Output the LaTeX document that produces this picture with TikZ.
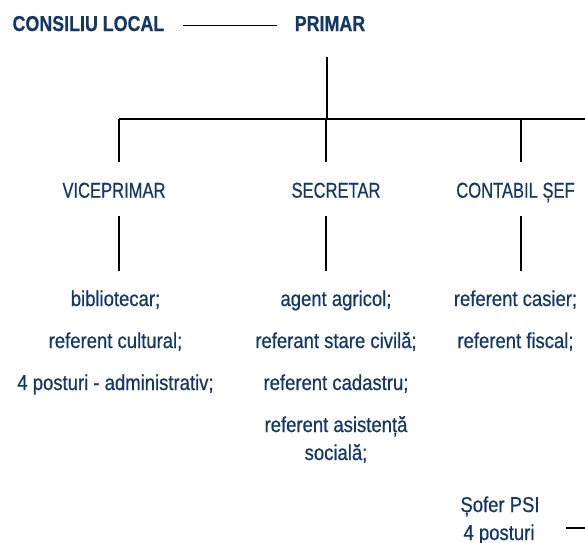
\documentclass[tikz,border=0pt]{standalone}
\usepackage{fontspec}
\setmainfont{Liberation Sans}
\newfontfamily\capsfont{Liberation Sans}[FakeStretch=0.77,FakeBold=0.6]
\newfontfamily\txtfont{Liberation Sans}[FakeStretch=0.86,FakeBold=0.6]
\newfontfamily\boldfont{Liberation Sans}[FakeStretch=0.83,FakeBold=0.5]
\definecolor{navy}{RGB}{20,56,102}
\begin{document}
\begin{tikzpicture}[x=1pt,y=-1pt,
  base/.style={inner sep=0pt,anchor=base,text=navy,font=\fontsize{21.5pt}{26pt}\selectfont},
  head/.style={base,font=\fontsize{21.5pt}{26pt}\selectfont\boldfont\bfseries},
  title/.style={base,font=\fontsize{21.5pt}{26pt}\selectfont\capsfont},
  item/.style={base,font=\fontsize{21.5pt}{26pt}\selectfont\txtfont},
  conn/.style={draw=black,line width=2pt},
  thin/.style={draw=black,line width=1.6pt}]
\useasboundingbox (0,0) rectangle (585,542);
% heads
\node[head,anchor=base west] (cl) at (12.4,31) {CONSILIU LOCAL};
\node[head] (pr) at (330,31) {PRIMAR};
% titles
\node[title] (vp) at (114,197.7) {VICEPRIMAR};
\node[title] (sc) at (336,197.7) {SECRETAR};
\node[title] (cf) at (515.5,197.7) {CONTABIL ȘEF};
% lists
\node[item] (v1) at (115.5,306) {bibliotecar;};
\node[item] (v2) at (115.5,348) {referent cultural;};
\node[item] (v3) at (115.5,390) {4 posturi - administrativ;};
\node[item] (s1) at (336,306) {agent agricol;};
\node[item] (s2) at (336,348) {referant stare civilă;};
\node[item] (s3) at (336,390) {referent cadastru;};
\node[item] (s4) at (336,432) {referent asistență};
\node[item] (s5) at (336,460) {socială;};
\node[item] (c1) at (515.5,306) {referent casier;};
\node[item] (c2) at (515.5,348) {referent fiscal;};
\node[item] (sf1) at (500,512) {Șofer PSI};
\node[item] (sf2) at (499,540) {4 posturi};
% coordinates
\coordinate (clR) at (182.6,25.5);
\coordinate (prL) at (276.7,25.5);
\coordinate (prB) at (326.6,57);
\coordinate (bus) at (326.6,119);
\coordinate (busL) at (119,119);
\coordinate (busR) at (585,119);
\coordinate (vpT) at (119,162);
\coordinate (scB) at (325.5,119);
\coordinate (scT) at (325.5,162);
\coordinate (cfB) at (521,119);
\coordinate (cfT) at (521,162);
\coordinate (vpD1) at (119,216);
\coordinate (vpD2) at (119,271);
\coordinate (scD1) at (325.5,216);
\coordinate (scD2) at (325.5,271);
\coordinate (cfD1) at (521,216);
\coordinate (cfD2) at (521,271);
\coordinate (sfL) at (566,527.7);
\coordinate (sfR) at (585,527.7);
% connectors
\draw[thin] (clR) -- (prL);
\draw[conn] (prB) -- (bus);
\draw[conn] (busL) -- (busR);
\draw[conn] (busL) -- (vpT);
\draw[conn] (scB) -- (scT);
\draw[conn] (cfB) -- (cfT);
\draw[conn] (vpD1) -- (vpD2);
\draw[conn] (scD1) -- (scD2);
\draw[conn] (cfD1) -- (cfD2);
\draw[thin] (sfL) -- (sfR);
\end{tikzpicture}
\end{document}
